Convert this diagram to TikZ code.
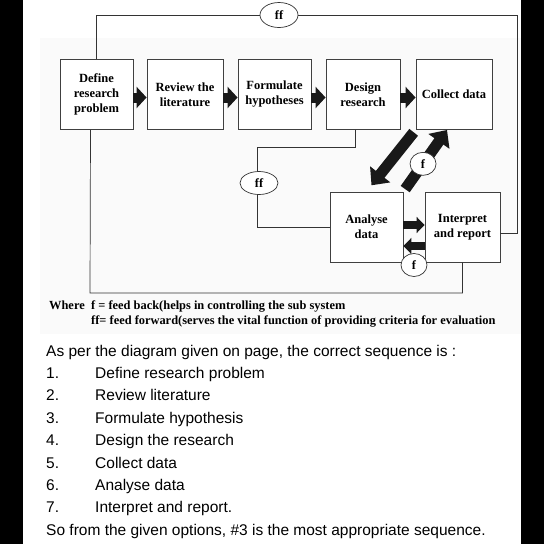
\documentclass[tikz,border=0pt]{standalone}
\usepackage{fontspec}
\setmainfont{Liberation Serif}
\newfontfamily\answerfont{Liberation Sans}
\usetikzlibrary{arrows.meta,shapes.geometric}

\tikzset{
  stage/.style={draw=black!75, line width=0.9pt, fill=white, minimum width=73pt,
    minimum height=70pt, align=center, inner sep=2pt,
    font=\fontsize{12.5}{15}\selectfont\bfseries},
  loopline/.style={draw=black!80, line width=0.7pt},
  tag/.style={ellipse, draw=black!80, line width=0.7pt, fill=white, inner sep=0pt,
    minimum width=26pt, minimum height=23pt, font=\fontsize{12.5}{14}\selectfont\bfseries},
  bigarrow/.style={draw=black!90, line width=10pt, -{Triangle[length=10pt,width=21pt]}},
  slantarrow/.style={draw=black!90, line width=11pt, -{Triangle[length=14pt,width=25pt]}},
  smallarrow/.style={draw=black!90, line width=8pt, -{Triangle[length=8pt,width=16pt]}},
  note/.style={anchor=base west, inner sep=0pt, font=\fontsize{12.4}{14}\selectfont\bfseries},
  body/.style={anchor=base west, inner sep=0pt, font=\answerfont\fontsize{15.5}{18}\selectfont},
}

\begin{document}
\begin{tikzpicture}[x=1pt,y=-1pt]
  \useasboundingbox (0,0) rectangle (544,544);
  % screenshot frame
  \fill [white] (0,0) rectangle (544,544);
  \fill [black] (0,0) rectangle (23,544);
  \fill [black] (521,0) rectangle (544,544);
  \fill [black!2] (40,38) rectangle (521,334);

  % stages
  \node [stage] (define) at (96.5, 94.5) {Define\\research\\problem};
  \node [stage, minimum width=76pt] (review) at (185, 94.5) {Review the\\literature};
  \node [stage] (formulate) at (274.5, 94.5) {Formulate\\hypotheses};
  \node [stage, minimum width=74pt] (design) at (363, 94.5) {Design\\research};
  \node [stage, minimum width=76pt] (collect) at (454, 94.5) {Collect data};
  \node [stage] (analyse) at (366.5, 227) {Analyse\\data};
  \node [stage, minimum width=75pt] (interpret) at (462.5, 227) {Interpret\\and report};

  % feed forward and feed back lines
  \coordinate (topright) at (517, 15);
  \coordinate (botleft) at (90, 293);
  \coordinate (ffbend) at (257, 147);
  \draw [loopline] ([yshift=-6pt]interpret.east) -| (topright) -| (define.north);
  \draw [loopline] ([xshift=-6pt]define.south) -- (botleft) -| (interpret.south);
  \draw [loopline] ([xshift=-8pt]design.south) |- (ffbend) |- (analyse.west);
  \node [tag, minimum width=38pt, minimum height=25pt] (fftop) at (279, 15) {ff};
  \node [tag, minimum width=38pt] (ffmid) at (259, 183) {ff};

  % flow arrows
  \foreach \a/\b in {define/review, review/formulate, formulate/design, design/collect}
    \draw [bigarrow] ([yshift=-3pt]\a.east) -- ([yshift=-3pt]\b.west);
  \draw [slantarrow, shorten <=3pt, shorten >=8pt] (collect.south west) -- (analyse.north);
  \draw [slantarrow, shorten <=3pt] (analyse.north east) -- ([xshift=-7pt]collect.south)
    node [tag, pos=0.45] (fdiag) {f};
  \draw [smallarrow] ([yshift=2pt]analyse.east) -- ([yshift=2pt]interpret.west);
  \draw [smallarrow] ([yshift=-19pt]interpret.west) -- ([yshift=-19pt]analyse.east)
    node [tag, midway, yshift=-19pt] (fbottom) {f};

  % legend
  \node [note] (where) at (49, 309) {Where};
  \node [note] (fnote) at (91, 309) {f = feed back(helps in controlling the sub system};
  \node [note] (ffnote) at (91, 324) {ff= feed forward(serves the vital function of providing criteria for evaluation};

  % answer text
  \node [body] (intro) at (46, 356) {As per the diagram given on page, the correct sequence is :};
  \foreach \txt [count=\i] in {Define research problem, Review literature,
      Formulate hypothesis, Design the research, Collect data, Analyse data,
      Interpret and report.} {
    \node [body] (num\i) at (46, 356+22.4*\i) {\i.};
    \node [body] (item\i) at (95, 356+22.4*\i) {\txt};
  }
  \node [body] (answer) at (46, 535.2) {So from the given options, \#3 is the most appropriate sequence.};
\end{tikzpicture}
\end{document}
